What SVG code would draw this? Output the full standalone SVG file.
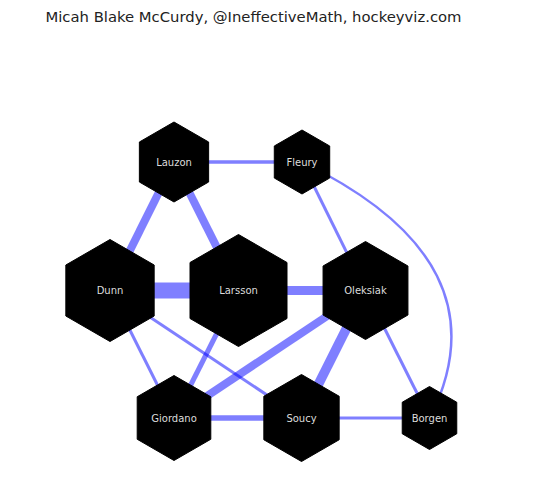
<svg xmlns="http://www.w3.org/2000/svg" width="540" height="486" viewBox="0 0 540 486">
<style>
.e{stroke:#0000ff;stroke-opacity:0.5;fill:none;stroke-linecap:butt}
.n{fill:#000;stroke:#000;stroke-width:1}
.l{font-family:"DejaVu Sans",sans-serif;font-size:10px;fill:#dcdcdc;text-anchor:middle}
.t{font-family:"DejaVu Sans",sans-serif;font-size:14.8px;fill:#222;text-anchor:middle}
</style>
<rect width="540" height="486" fill="#fff"/>
<text class="t" x="253.5" y="22">Micah Blake McCurdy, @IneffectiveMath, hockeyviz.com</text>
<g id="edges">
<line class="e" x1="174" y1="162" x2="302" y2="162" stroke-width="3.5"/>
<line class="e" x1="174" y1="162" x2="110" y2="290.5" stroke-width="8"/>
<line class="e" x1="174" y1="162" x2="238.5" y2="290.5" stroke-width="8"/>
<line class="e" x1="110" y1="290.5" x2="238.5" y2="290.5" stroke-width="16"/>
<line class="e" x1="238.5" y1="290.5" x2="365.5" y2="290.5" stroke-width="9"/>
<line class="e" x1="302" y1="162" x2="365.5" y2="290.5" stroke-width="3"/>
<path class="e" d="M302,162 Q508,262 430,418" stroke-width="2.5"/>
<line class="e" x1="110" y1="290.5" x2="174" y2="418" stroke-width="3"/>
<line class="e" x1="110" y1="290.5" x2="301.5" y2="418" stroke-width="3"/>
<line class="e" x1="238.5" y1="290.5" x2="174" y2="418" stroke-width="5"/>
<line class="e" x1="365.5" y1="290.5" x2="174" y2="418" stroke-width="8"/>
<line class="e" x1="365.5" y1="290.5" x2="301.5" y2="418" stroke-width="9.5"/>
<line class="e" x1="365.5" y1="290.5" x2="429.5" y2="418" stroke-width="3"/>
<line class="e" x1="174" y1="418" x2="301.5" y2="418" stroke-width="5.5"/>
<line class="e" x1="301.5" y1="418" x2="429.5" y2="418" stroke-width="3"/>
</g>
<g id="Lauzon" transform="translate(174,162)"><polygon class="n" points="0,-40 34.64,-20 34.64,20 0,40 -34.64,20 -34.64,-20"/><text class="l" y="3.6">Lauzon</text></g>
<g id="Fleury" transform="translate(302,162)"><polygon class="n" points="0,-32 27.71,-16 27.71,16 0,32 -27.71,16 -27.71,-16"/><text class="l" y="3.6">Fleury</text></g>
<g id="Dunn" transform="translate(110,290.5)"><polygon class="n" points="0,-51 44.17,-25.5 44.17,25.5 0,51 -44.17,25.5 -44.17,-25.5"/><text class="l" y="3.6">Dunn</text></g>
<g id="Larsson" transform="translate(238.5,290.5)"><polygon class="n" points="0,-56 48.5,-28 48.5,28 0,56 -48.5,28 -48.5,-28"/><text class="l" y="3.6">Larsson</text></g>
<g id="Oleksiak" transform="translate(365.5,290.5)"><polygon class="n" points="0,-49 42.44,-24.5 42.44,24.5 0,49 -42.44,24.5 -42.44,-24.5"/><text class="l" y="3.6">Oleksiak</text></g>
<g id="Giordano" transform="translate(174,418)"><polygon class="n" points="0,-42.5 36.81,-21.25 36.81,21.25 0,42.5 -36.81,21.25 -36.81,-21.25"/><text class="l" y="3.6">Giordano</text></g>
<g id="Soucy" transform="translate(301.5,418)"><polygon class="n" points="0,-43.5 37.67,-21.75 37.67,21.75 0,43.5 -37.67,21.75 -37.67,-21.75"/><text class="l" y="3.6">Soucy</text></g>
<g id="Borgen" transform="translate(429.5,418)"><polygon class="n" points="0,-31.5 27.28,-15.75 27.28,15.75 0,31.5 -27.28,15.75 -27.28,-15.75"/><text class="l" y="3.6">Borgen</text></g>
</svg>
